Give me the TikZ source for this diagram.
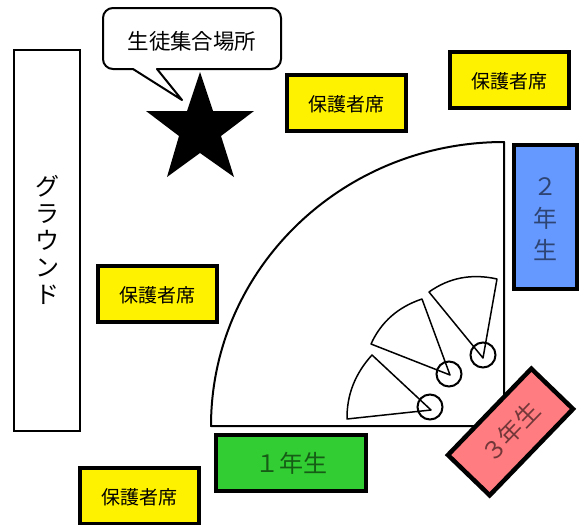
\documentclass[tikz,border=0pt]{standalone}
\usepackage{fontspec}
\setmainfont{Noto Sans CJK JP}
\newcommand{\lowered}[1]{\raisebox{-2pt}[0.85em][0.15em]{#1}}
\tikzset{
  x=1pt,y=-1pt,
  seat/.style={draw=black,line width=4pt,fill=yellow,minimum width=119pt,minimum height=56pt,inner sep=0pt,font=\fontsize{19}{21}\selectfont,text=black},
  grade/.style={draw=black,line width=4.5pt,inner sep=0pt,font=\fontsize{24}{32}\selectfont,text=black,text opacity=0.55,align=center},
  thin line/.style={draw=black,line width=2pt},
  sector/.style={draw=black,line width=1.5pt,line join=round,fill=white},
  pivot/.style={circle,draw=black,line width=2pt,minimum size=25pt,inner sep=0pt}
}
\begin{document}
\begin{tikzpicture}
\useasboundingbox (0,0) rectangle (582,525);
% ground
\node[thin line,fill=white,minimum width=66pt,minimum height=381pt,inner sep=0pt,align=center,font=\fontsize{24}{27}\selectfont] (ground) at (47,240) {グ\\ラ\\ウ\\ン\\ド};
% callout
\draw[line width=2pt,fill=white,line join=round]
  (133,69) -- (113,69) arc[start angle=90,end angle=180,radius=10] -- (103,18)
  arc[start angle=180,end angle=270,radius=10] -- (271,8)
  arc[start angle=270,end angle=360,radius=10] -- (281,59)
  arc[start angle=0,end angle=90,radius=10] -- (157,69) -- (182,100) -- cycle;
\node[font=\fontsize{21.5}{24}\selectfont] (callout) at (192,41) {生徒集合場所};
% star
\fill[black] (200,72) -- (213,111) -- (254,111) -- (221,136) -- (234,177) -- (200,153) -- (167,177) -- (179,136) -- (146,111) -- (187,111) -- cycle;
% seats
\node[seat] (seatA) at (346,102.5) {\lowered{保護者席}};
\node[seat] (seatB) at (509,79.5) {\lowered{保護者席}};
\node[seat] (seatC) at (157,294) {\lowered{保護者席}};
\node[seat] (seatD) at (139,496) {\lowered{保護者席}};
% field
\draw[line width=2pt,fill=white,line join=round] (211,426) arc[start angle=180,end angle=90,x radius=293,y radius=-284] -- (504,426) -- cycle;
% sectors
\draw[sector] (431,410) -- (372,355) .. controls (355,373.7) and (346.7,395) .. (347,419) -- cycle;
\draw[sector] (450,375) -- (422,299) .. controls (398,307) and (381,322) .. (371,344) -- cycle;
\draw[sector] (483,358) -- (429,292) .. controls (449,277.7) and (471.7,273.3) .. (497,279) -- cycle;
\node[pivot] (p1) at (430,407) {};
\node[pivot] (p2) at (449,374) {};
\node[pivot] (p3) at (483,355) {};
% grades
\node[grade,fill={rgb,255:red,50;green,205;blue,50},minimum width=150pt,minimum height=56pt] (g1) at (291,463) {１年生};
\node[grade,fill={rgb,255:red,102;green,153;blue,255},minimum width=63pt,minimum height=144pt] (g2) at (545.5,217) {\lowered{２}\\\lowered{年}\\\lowered{生}};
\node[grade,fill={rgb,255:red,255;green,124;blue,128},minimum width=120pt,minimum height=58pt,rotate=46] (g3) at (510.5,432) {３年生};
\end{tikzpicture}
\end{document}
